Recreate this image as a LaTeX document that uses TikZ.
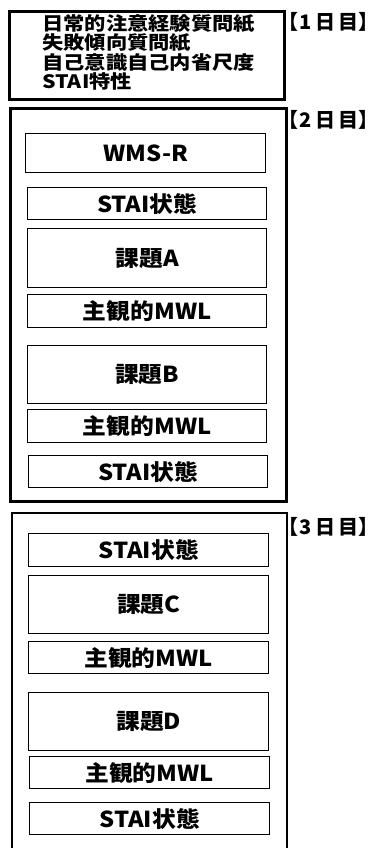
\documentclass[tikz,border=0pt]{standalone}
\usepackage{fontspec}
\newfontfamily\jp[FakeStretch=1.08]{Noto Sans CJK JP}
\newfontfamily\jpw[FakeStretch=1.15]{Noto Sans CJK JP}
\newfontfamily\jpl{Noto Sans CJK JP}
\newcommand{\daytext}[1]{\kern-0.5em【\kern0.05em #1\kern0.2em 日\kern0.15em 目\kern0.0em 】\kern-0.5em}
\begin{document}
\begin{tikzpicture}[x=1pt,y=-1pt,
  outerbox/.style={draw=black, line width=2.6pt},
  innerbox/.style={draw=black, line width=1.4pt, inner sep=0pt, anchor=north west,
     font=\jp\bfseries\fontsize{22}{22}\selectfont},
  daylabel/.style={anchor=west, inner sep=0pt, font=\jpl\bfseries\fontsize{20}{20}\selectfont},
  listtext/.style={anchor=north west, inner sep=0pt, align=left,
     font=\jpw\bfseries\fontsize{18.5}{19.5}\selectfont}]
\useasboundingbox (0,0) rectangle (378,848);
\clip (0,0) rectangle (378,848);
\fill[white] (0,0) rectangle (378,848);

% Day 1
\node[outerbox, anchor=north west, minimum width=275pt, minimum height=88pt] (d1) at (8,10) {};
\node[listtext] (t1) at (42,14) {日常的注意経験質問紙\\失敗傾向質問紙\\自己意識自己内省尺度\\STAI特性};
\node[daylabel] (l1) at (288.5,22) {\daytext{1}};

% Day 2
\node[outerbox, anchor=north west, minimum width=276pt, minimum height=393pt] (d2) at (9,107) {};
\node[daylabel] (l2) at (288.5,120) {\daytext{2}};
\node[innerbox, minimum width=240pt, minimum height=39pt] (a1) at (25,133) {WMS-R};
\node[innerbox, minimum width=239pt, minimum height=32pt] (a2) at (27,187) {STAI状態};
\node[innerbox, minimum width=239pt, minimum height=59pt] (a3) at (27,228) {課題A};
\node[innerbox, minimum width=239pt, minimum height=33pt] (a4) at (27,294) {主観的MWL};
\node[innerbox, minimum width=239pt, minimum height=58pt] (a5) at (27,345) {課題B};
\node[innerbox, minimum width=239pt, minimum height=33pt] (a6) at (27,409) {主観的MWL};
\node[innerbox, minimum width=239pt, minimum height=32pt] (a7) at (28,455) {STAI状態};

% Day 3
\draw[outerbox] (12,870) -- (12,513) -- (287,513) -- (287,870);
\node[daylabel] (l3) at (288.5,527) {\daytext{3}};
\node[innerbox, minimum width=240pt, minimum height=33pt] (b1) at (28,533) {STAI状態};
\node[innerbox, minimum width=240pt, minimum height=58pt] (b2) at (28,575) {課題C};
\node[innerbox, minimum width=240pt, minimum height=32pt] (b3) at (28,641) {主観的MWL};
\node[innerbox, minimum width=240pt, minimum height=58pt] (b4) at (28,692) {課題D};
\node[innerbox, minimum width=240pt, minimum height=32pt] (b5) at (29,756) {主観的MWL};
\node[innerbox, minimum width=240pt, minimum height=32pt] (b6) at (29,802) {STAI状態};
\end{tikzpicture}
\end{document}
